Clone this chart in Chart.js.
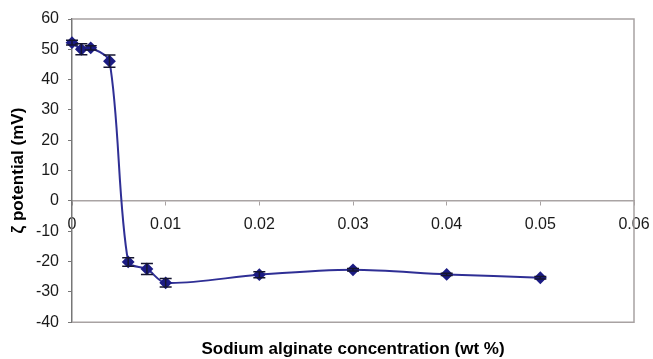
<!DOCTYPE html>
<html>
<head>
<meta charset="utf-8">
<script src="https://cdn.jsdelivr.net/npm/chart.js@4/dist/chart.umd.min.js"></script>
<style>
html,body{margin:0;padding:0;background:#ffffff;}
#wrap{width:653px;height:359px;}
</style>
</head>
<body>
<div id="wrap"><canvas id="c" width="653" height="359"></canvas></div>
<script>
// Data
const concentrations = [0, 0.001, 0.002, 0.004, 0.006, 0.008, 0.01, 0.02, 0.03, 0.04, 0.05];
const zetaPotential = [52.2, 50, 50.5, 46.1, -20.1, -22.4, -27, -24.3, -22.7, -24.2, -25.3];
const zetaError = [0.8, 1.8, 0.7, 2, 1.4, 1.8, 1.4, 1, 0.4, 0.4, 0.4];
const xTicks = [0, 0.01, 0.02, 0.03, 0.04, 0.05, 0.06];
const yTicks = [-40, -30, -20, -10, 0, 10, 20, 30, 40, 50, 60];
const xTitle = 'Sodium alginate concentration (wt %)';
const yTitle = 'ζ potential (mV)';

Chart.defaults.font.family = "'Liberation Sans', Arial, sans-serif";
Chart.defaults.color = '#1a1a1a';

const points = concentrations.map((x, i) => ({x: x, y: zetaPotential[i]}));

const frame = {
  id: 'frame',
  beforeDraw(chart) {
    const {ctx} = chart;
    ctx.save();
    ctx.fillStyle = '#ffffff';
    ctx.fillRect(0, 0, chart.width, chart.height);
    ctx.restore();
  },
  beforeDatasetsDraw(chart) {
    const {ctx, chartArea: a} = chart;
    ctx.save();
    ctx.strokeStyle = '#a8a2a2';
    ctx.lineWidth = 1.5;
    ctx.beginPath();
    ctx.moveTo(a.left, a.top);
    ctx.lineTo(a.right, a.top);
    ctx.lineTo(a.right, a.bottom);
    ctx.lineTo(a.left, a.bottom);
    ctx.stroke();
    ctx.restore();
  }
};

const errorBars = {
  id: 'errorBars',
  afterDatasetsDraw(chart) {
    const {ctx} = chart;
    const xs = chart.scales.x, ys = chart.scales.y;
    ctx.save();
    ctx.strokeStyle = '#151530';
    ctx.lineWidth = 1.5;
    concentrations.forEach((c, i) => {
      const e = zetaError[i];
      const px = xs.getPixelForValue(c);
      const yTop = ys.getPixelForValue(zetaPotential[i] + e);
      const yBot = ys.getPixelForValue(zetaPotential[i] - e);
      ctx.beginPath();
      ctx.moveTo(px, yTop); ctx.lineTo(px, yBot);
      ctx.moveTo(px - 6, yTop); ctx.lineTo(px + 6, yTop);
      ctx.moveTo(px - 6, yBot); ctx.lineTo(px + 6, yBot);
      ctx.stroke();
    });
    ctx.restore();
  }
};

new Chart(document.getElementById('c'), {
  type: 'line',
  data: {
    datasets: [{
      data: points,
      borderColor: '#2f2f95',
      borderWidth: 2,
      backgroundColor: '#1c1c84',
      pointBackgroundColor: '#1c1c84',
      pointBorderColor: '#1c1c84',
      pointStyle: 'rectRot',
      pointRadius: 5,
      tension: 0.3,
      clip: false
    }]
  },
  options: {
    responsive: false,
    animation: false,
    layout: {padding: {top: 19, right: 19, bottom: 0, left: 0}},
    plugins: {
      legend: {display: false},
      tooltip: {enabled: false},
      title: {
        display: true,
        position: 'bottom',
        fullSize: false,
        text: xTitle,
        color: '#000',
        font: {size: 17, weight: 'bold', lineHeight: 1.1},
        padding: {top: 18, bottom: 0}
      }
    },
    scales: {
      x: {
        type: 'linear',
        position: {y: 0},
        min: 0, max: 0.06,
        afterFit(s) { s.height = 0; s.paddingLeft = 0; s.paddingRight = 0; },
        afterBuildTicks(s) { s.ticks = xTicks.map(v => ({value: v})); },
        ticks: {
          font: {size: 16},
          color: '#1a1a1a',
          padding: 10,
          maxRotation: 0,
          callback: v => String(v)
        },
        grid: {display: true, drawOnChartArea: false, drawTicks: true, tickLength: 4, color: '#a8a2a2'},
        border: {display: true, color: '#aaa4a4', width: 1.5}
      },
      y: {
        type: 'linear',
        min: -40, max: 60,
        afterFit(s) { s.width = 72; s.paddingTop = 0; s.paddingBottom = 0; },
        afterBuildTicks(s) { s.ticks = yTicks.map(v => ({value: v})); },
        ticks: {
          font: {size: 16},
          color: '#1a1a1a',
          padding: 9
        },
        grid: {display: true, drawOnChartArea: false, drawTicks: true, tickLength: 4, color: '#777'},
        border: {display: true, color: '#777', width: 1.5},
        title: {
          display: true,
          text: yTitle,
          color: '#000',
          font: {size: 17, weight: 'bold', lineHeight: 1.1},
          padding: {top: 9, bottom: 0}
        }
      }
    }
  },
  plugins: [frame, errorBars]
});
</script>
</body>
</html>
